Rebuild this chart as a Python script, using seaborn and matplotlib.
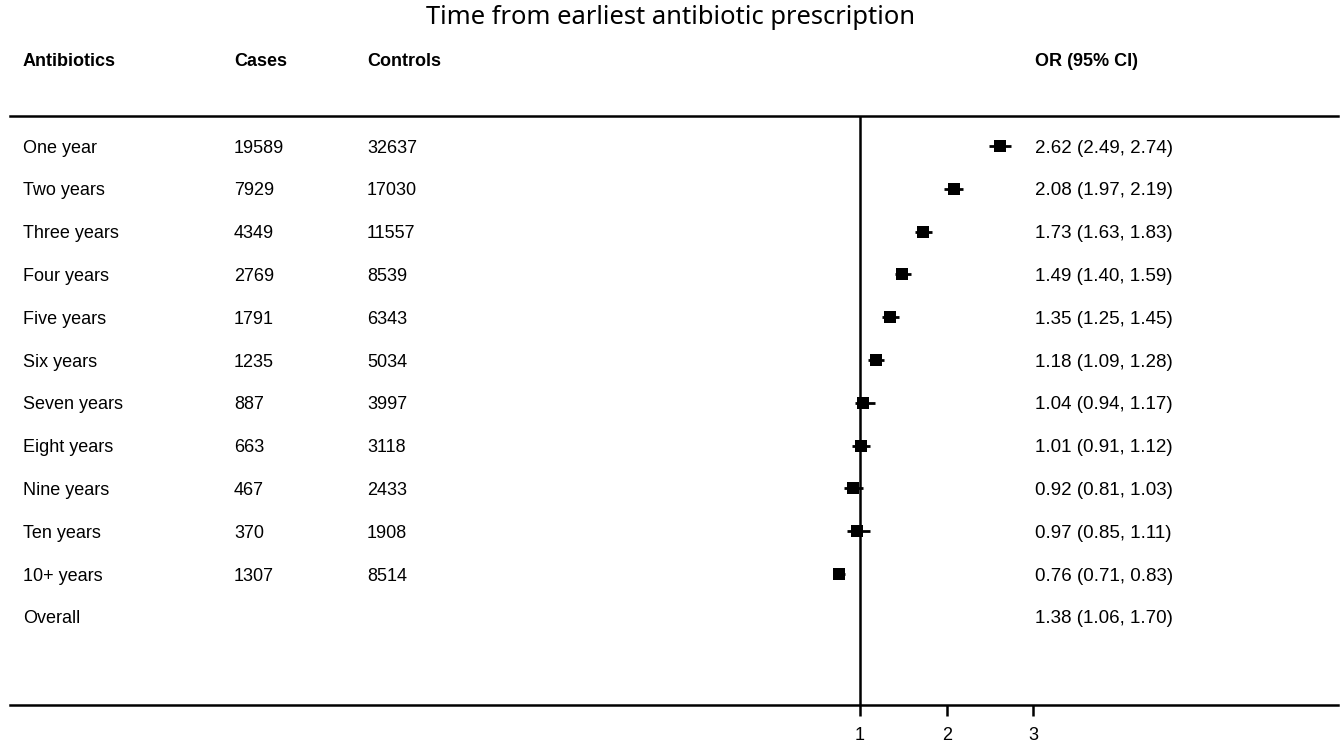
import matplotlib
matplotlib.use("Agg")
import matplotlib.pyplot as plt
import matplotlib.transforms as mtransforms
import seaborn as sns
import pandas as pd

labels = ["One year", "Two years", "Three years", "Four years", "Five years", "Six years",
          "Seven years", "Eight years", "Nine years", "Ten years", "10+ years", "Overall"]
cases = ["19589", "7929", "4349", "2769", "1791", "1235", "887", "663", "467", "370", "1307", ""]
controls = ["32637", "17030", "11557", "8539", "6343", "5034", "3997", "3118", "2433", "1908", "8514", ""]
or_est = [2.62, 2.08, 1.73, 1.49, 1.35, 1.18, 1.04, 1.01, 0.92, 0.97, 0.76]
ci_low = [2.49, 1.97, 1.63, 1.40, 1.25, 1.09, 0.94, 0.91, 0.81, 0.85, 0.71]
ci_high = [2.74, 2.19, 1.83, 1.59, 1.45, 1.28, 1.17, 1.12, 1.03, 1.11, 0.83]
or_text = ["2.62 (2.49, 2.74)", "2.08 (1.97, 2.19)", "1.73 (1.63, 1.83)", "1.49 (1.40, 1.59)",
           "1.35 (1.25, 1.45)", "1.18 (1.09, 1.28)", "1.04 (0.94, 1.17)", "1.01 (0.91, 1.12)",
           "0.92 (0.81, 1.03)", "0.97 (0.85, 1.11)", "0.76 (0.71, 0.83)", "1.38 (1.06, 1.70)"]
xticks = [1, 2, 3]

sns.set_theme(style="white")
plt.rcParams["font.family"] = ["Liberation Sans", "DejaVu Sans"]
plt.rcParams["text.color"] = "black"
plt.rcParams["xtick.color"] = "black"
plt.rcParams["xtick.labelcolor"] = "black"

W, H = 1341, 742
fig = plt.figure(figsize=(W / 100, H / 100), dpi=100)
ax = fig.add_axes([10 / W, (H - 705) / H, 1328 / W, (705 - 116) / H])

px_per_unit = 86.7
x_left = 1 - (860 - 10) / px_per_unit
x_right = 1 + (1338 - 860) / px_per_unit
row0, rowstep = 146, 42.8
y_bottom = (705 - row0) / rowstep
y_top = (116 - row0) / rowstep

n = len(or_est)
df = pd.DataFrame({"row": list(range(n)), "or": or_est, "lo": ci_low, "hi": ci_high})

ax.hlines(df["row"], df["lo"], df["hi"], color="black", lw=2, zorder=2)
sns.scatterplot(data=df, x="or", y="row", marker="s", s=75, color="black",
                edgecolor="black", linewidth=0, ax=ax, zorder=3)
ax.axvline(1, color="black", lw=1.8, zorder=1)

ax.set_xlim(x_left, x_right)
ax.set_ylim(y_bottom, y_top)
ax.set_xticks(xticks)
ax.set_xticklabels([str(t) for t in xticks], fontsize=13)
ax.set_yticks([])
ax.set_xlabel("")
ax.set_ylabel("")
for s in ["left", "right"]:
    ax.spines[s].set_visible(False)
for s in ["top", "bottom"]:
    ax.spines[s].set_visible(True)
    ax.spines[s].set_color("black")
    ax.spines[s].set_linewidth(1.8)
ax.tick_params(axis="x", direction="out", length=8, width=1.8, color="black", pad=8,
               bottom=True)

trans = mtransforms.blended_transform_factory(fig.transFigure, ax.transData)
cols = [23, 234, 367, 1035]
fs = 13
dy = 0.05
for i in range(len(labels)):
    ax.text(cols[0] / W, i + dy, labels[i], transform=trans, va="center", ha="left", fontsize=fs)
    ax.text(cols[1] / W, i + dy, cases[i], transform=trans, va="center", ha="left", fontsize=fs)
    ax.text(cols[2] / W, i + dy, controls[i], transform=trans, va="center", ha="left", fontsize=fs)
    ax.text(cols[3] / W, i + dy, or_text[i], transform=trans, va="center", ha="left", fontsize=13.5)

headers = ["Antibiotics", "Cases", "Controls", "OR (95% CI)"]
for x, h in zip(cols, headers):
    fig.text(x / W, 1 - 61 / H, h, va="center", ha="left", fontsize=fs, fontweight="bold")

fig.text(671 / W, 1 - 18 / H, "Time from earliest antibiotic prescription",
         ha="center", va="center", fontsize=18.4, family=["Noto Sans", "DejaVu Sans"])

fig.savefig("out.png", dpi=100)
